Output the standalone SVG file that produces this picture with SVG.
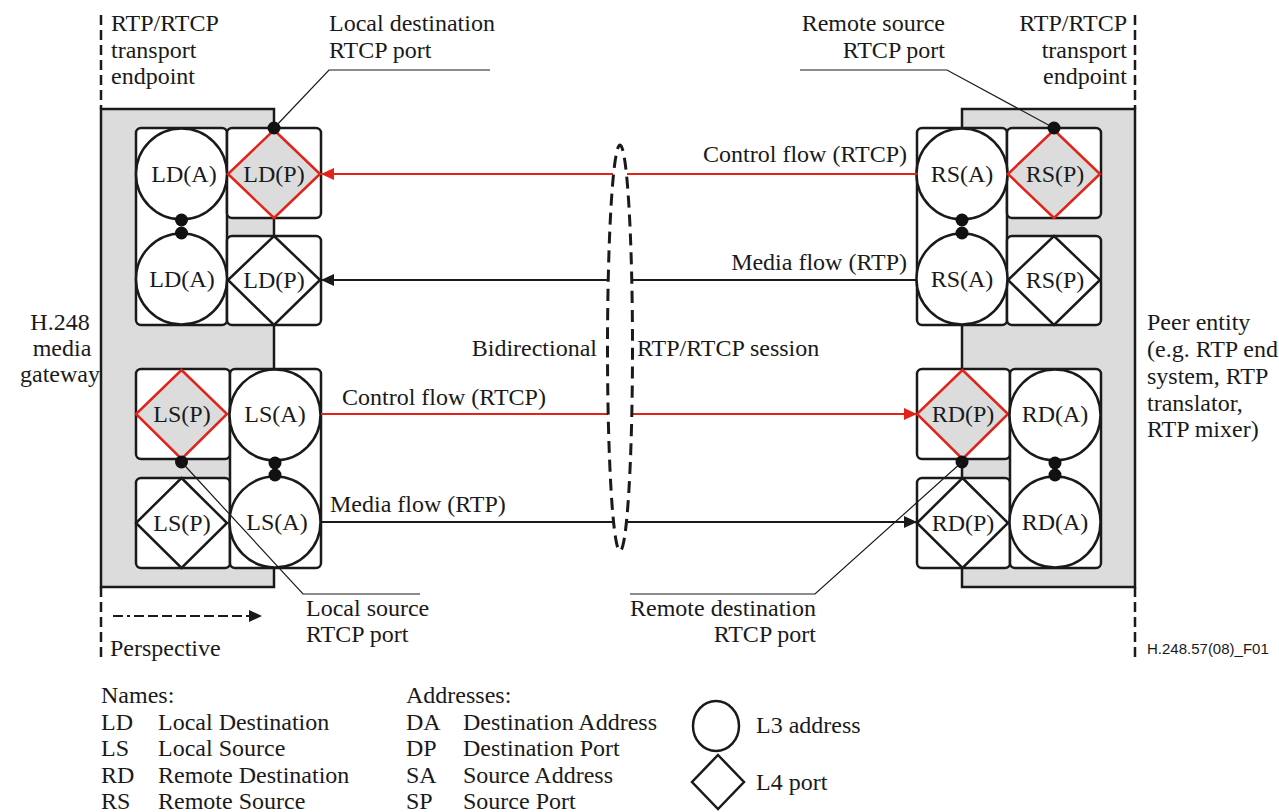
<svg xmlns="http://www.w3.org/2000/svg" width="1279" height="812" viewBox="0 0 1279 812">
<style>
.t{font-family:"Liberation Serif",serif;font-size:24px;fill:#1a1a1a}
.m{text-anchor:middle}
.e{text-anchor:end}
.panel{fill:#dcdcdc;stroke:#1a1a1a;stroke-width:2.5}
.box{fill:#fff;stroke:#1a1a1a;stroke-width:2.5}
.circ{fill:#fff;stroke:#1a1a1a;stroke-width:2.5}
.dia{fill:#fff;stroke:#1a1a1a;stroke-width:2.5}
.red{fill:#dcdcdc;stroke:#e2231a}
.dot{fill:#111}
.lead{fill:none;stroke:#1a1a1a;stroke-width:1.2}
.dash{fill:none;stroke:#1a1a1a;stroke-width:2.5;stroke-dasharray:10 5}
.fr{fill:none;stroke:#e2231a;stroke-width:2}
.fb{fill:none;stroke:#1a1a1a;stroke-width:2}
</style>
<defs>
<marker id="ar" markerUnits="userSpaceOnUse" markerWidth="14" markerHeight="12" refX="13" refY="6" orient="auto"><path d="M0,0 L13,6 L0,12 z" fill="#e2231a"/></marker>
<marker id="ab" markerUnits="userSpaceOnUse" markerWidth="14" markerHeight="12" refX="13" refY="6" orient="auto"><path d="M0,0 L13,6 L0,12 z" fill="#1a1a1a"/></marker>
</defs>

<g id="boundaries">
<line class="dash" x1="101" y1="15" x2="101" y2="109"/>
<line class="dash" x1="101" y1="587" x2="101" y2="662"/>
<line class="dash" x1="1135" y1="15" x2="1135" y2="109"/>
<line class="dash" x1="1135" y1="587" x2="1135" y2="662"/>
<rect id="gateway-panel" class="panel" x="101" y="109" width="173" height="478"/>
<rect id="peer-panel" class="panel" x="962" y="109" width="173" height="478"/>
</g>

<g id="ld-block">
<rect class="box" x="136" y="128" width="91" height="197" rx="5"/>
<rect class="box" x="227" y="128" width="94" height="90" rx="5"/>
<rect class="box" x="227" y="236" width="94" height="89" rx="5"/>
<g id="LD_A1"><circle class="circ" cx="181.5" cy="174" r="45.5"/><text class="t m" x="184" y="182">LD(A)</text></g>
<g id="LD_A2"><circle class="circ" cx="181.5" cy="279" r="45.5"/><text class="t m" x="182" y="287">LD(A)</text></g>
<g id="LD_P1"><polygon class="dia red" points="274,130 320,174 274,218 228,174"/><text class="t m" x="274" y="182">LD(P)</text></g>
<g id="LD_P2"><polygon class="dia" points="274,236 320,280 274,325 228,280"/><text class="t m" x="274" y="288">LD(P)</text></g>
<circle class="dot" cx="181.5" cy="220" r="6.5"/><circle class="dot" cx="181.5" cy="233" r="6.5"/>
<circle class="dot" cx="274" cy="128" r="6.5"/>
</g>

<g id="ls-block">
<rect class="box" x="136" y="369" width="94" height="90" rx="5"/>
<rect class="box" x="136" y="478" width="94" height="90" rx="5"/>
<rect class="box" x="230" y="369" width="91" height="199" rx="5"/>
<g id="LS_P1"><polygon class="dia red" points="181.5,370 227,414 181.5,459 136,414"/><text class="t m" x="182" y="422">LS(P)</text></g>
<g id="LS_P2"><polygon class="dia" points="181.5,478 227,523 181.5,568 136,523"/><text class="t m" x="182" y="531">LS(P)</text></g>
<g id="LS_A1"><circle class="circ" cx="275" cy="415" r="45.5"/><text class="t m" x="275" y="422">LS(A)</text></g>
<g id="LS_A2"><circle class="circ" cx="275" cy="522" r="45.5"/><text class="t m" x="277" y="530">LS(A)</text></g>
<circle class="dot" cx="275" cy="463" r="6.5"/><circle class="dot" cx="275" cy="475" r="6.5"/>
<circle class="dot" cx="181.5" cy="462" r="6.5"/>
</g>

<g id="rs-block">
<rect class="box" x="917" y="128" width="90" height="197" rx="5"/>
<rect class="box" x="1007" y="128" width="94" height="90" rx="5"/>
<rect class="box" x="1007" y="236" width="94" height="89" rx="5"/>
<g id="RS_A1"><circle class="circ" cx="962" cy="174" r="45.5"/><text class="t m" x="962" y="182">RS(A)</text></g>
<g id="RS_A2"><circle class="circ" cx="962" cy="279" r="45.5"/><text class="t m" x="962" y="287">RS(A)</text></g>
<g id="RS_P1"><polygon class="dia red" points="1054,130 1100,174 1054,218 1008,174"/><text class="t m" x="1055" y="182">RS(P)</text></g>
<g id="RS_P2"><polygon class="dia" points="1054,236 1100,280 1054,325 1008,280"/><text class="t m" x="1055" y="288">RS(P)</text></g>
<circle class="dot" cx="962" cy="220" r="6.5"/><circle class="dot" cx="962" cy="233" r="6.5"/>
<circle class="dot" cx="1054" cy="128" r="6.5"/>
</g>

<g id="rd-block">
<rect class="box" x="917" y="369" width="93" height="90" rx="5"/>
<rect class="box" x="917" y="478" width="93" height="90" rx="5"/>
<rect class="box" x="1010" y="369" width="91" height="199" rx="5"/>
<g id="RD_P1"><polygon class="dia red" points="962.5,370 1008,414 962.5,459 917,414"/><text class="t m" x="963" y="422">RD(P)</text></g>
<g id="RD_P2"><polygon class="dia" points="962.5,478 1008,523 962.5,568 917,523"/><text class="t m" x="963" y="531">RD(P)</text></g>
<g id="RD_A1"><circle class="circ" cx="1055" cy="415" r="45.5"/><text class="t m" x="1055" y="422">RD(A)</text></g>
<g id="RD_A2"><circle class="circ" cx="1055" cy="522" r="45.5"/><text class="t m" x="1055" y="530">RD(A)</text></g>
<circle class="dot" cx="1055" cy="463" r="6.5"/><circle class="dot" cx="1055" cy="475" r="6.5"/>
<circle class="dot" cx="962" cy="462" r="6.5"/>
</g>

<g id="connectors">
<line class="fr" x1="613" y1="174" x2="321" y2="174" marker-end="url(#ar)"/>
<line class="fr" x1="917" y1="174" x2="627" y2="174"/>
<line class="fb" x1="608" y1="280" x2="321" y2="280" marker-end="url(#ab)"/>
<line class="fb" x1="917" y1="280" x2="632" y2="280"/>
<line class="fr" x1="321" y1="414" x2="608" y2="414"/>
<line class="fr" x1="632" y1="414" x2="917" y2="414" marker-end="url(#ar)"/>
<line class="fb" x1="321" y1="522" x2="613" y2="522"/>
<line class="fb" x1="627" y1="522" x2="917" y2="522" marker-end="url(#ab)"/>
<ellipse cx="620" cy="348" rx="12.5" ry="203" fill="none" stroke="#1a1a1a" stroke-width="3" stroke-dasharray="12 7"/>
<polyline class="lead" points="274,128 329,70 490,70"/>
<polyline class="lead" points="1054,128 947,70 800,70"/>
<polyline class="lead" points="181.5,462 303,594 420,594"/>
<polyline class="lead" points="962,462 815,594 630,594"/>
<line x1="113" y1="616" x2="250" y2="616" stroke="#1a1a1a" stroke-width="2" stroke-dasharray="10 4 3 4 10 4 10 4 10 4 10 4 10 4 10 4 10 4 10 4"/>
<path d="M249,610 L262,616 L249,622 z" fill="#1a1a1a"/>
</g>

<g id="labels">
<text class="t" x="111" y="31">RTP/RTCP</text>
<text class="t" x="111" y="58">transport</text>
<text class="t" x="111" y="84">endpoint</text>
<text class="t" x="329" y="31">Local destination</text>
<text class="t" x="329" y="58">RTCP port</text>
<text class="t e" x="945" y="31">Remote source</text>
<text class="t e" x="945" y="58">RTCP port</text>
<text class="t e" x="1127" y="31">RTP/RTCP</text>
<text class="t e" x="1127" y="58">transport</text>
<text class="t e" x="1127" y="84">endpoint</text>
<text class="t m" x="60" y="330">H.248</text>
<text class="t m" x="62" y="356">media</text>
<text class="t m" x="60" y="382">gateway</text>
<text class="t" x="1147" y="330">Peer entity</text>
<text class="t" x="1147" y="357">(e.g. RTP end</text>
<text class="t" x="1147" y="384">system, RTP</text>
<text class="t" x="1147" y="411">translator,</text>
<text class="t" x="1147" y="437">RTP mixer)</text>
<text class="t e" x="907" y="162">Control flow (RTCP)</text>
<text class="t e" x="907" y="270">Media flow (RTP)</text>
<text class="t" x="342" y="405">Control flow (RTCP)</text>
<text class="t" x="330" y="512">Media flow (RTP)</text>
<text class="t e" x="597" y="356">Bidirectional</text>
<text class="t" x="637" y="356">RTP/RTCP session</text>
<text class="t" x="306" y="616">Local source</text>
<text class="t" x="306" y="642">RTCP port</text>
<text class="t e" x="816" y="616">Remote destination</text>
<text class="t e" x="816" y="642">RTCP port</text>
<text class="t" x="110" y="656">Perspective</text>
<text x="1147" y="654" style="font-family:'Liberation Sans',sans-serif;font-size:15px;fill:#1a1a1a">H.248.57(08)_F01</text>
</g>

<g id="legend">
<text class="t" x="101" y="703">Names:</text>
<text class="t" x="101" y="730">LD</text><text class="t" x="158" y="730">Local Destination</text>
<text class="t" x="101" y="756">LS</text><text class="t" x="158" y="756">Local Source</text>
<text class="t" x="101" y="783">RD</text><text class="t" x="158" y="783">Remote Destination</text>
<text class="t" x="101" y="809">RS</text><text class="t" x="158" y="809">Remote Source</text>
<text class="t" x="406" y="703">Addresses:</text>
<text class="t" x="406" y="730">DA</text><text class="t" x="463" y="730">Destination Address</text>
<text class="t" x="406" y="756">DP</text><text class="t" x="463" y="756">Destination Port</text>
<text class="t" x="406" y="783">SA</text><text class="t" x="463" y="783">Source Address</text>
<text class="t" x="406" y="809">SP</text><text class="t" x="463" y="809">Source Port</text>
<ellipse class="circ" cx="716" cy="726" rx="23" ry="25"/>
<text class="t" x="756" y="733">L3 address</text>
<polygon class="dia" points="718,755 744,782 718,809 692,782"/>
<text class="t" x="756" y="790">L4 port</text>
</g>
</svg>
